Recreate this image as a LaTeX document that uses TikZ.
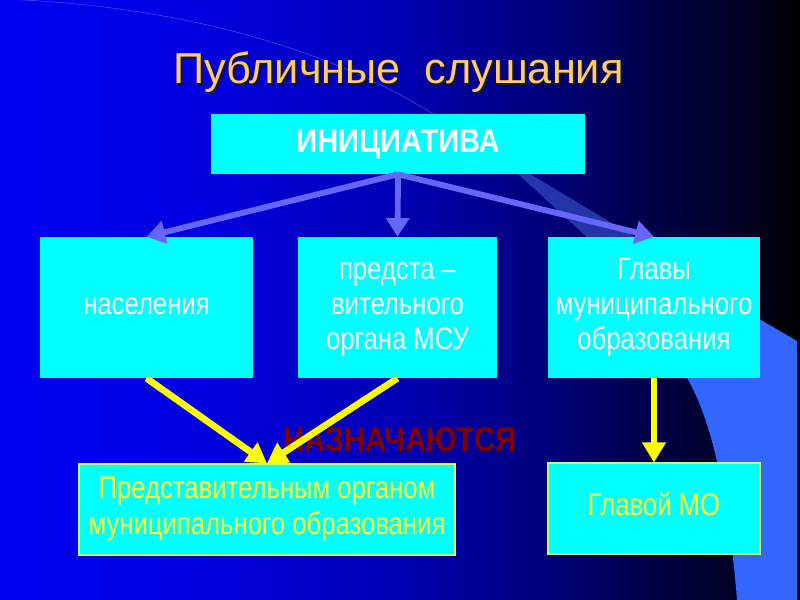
\documentclass[tikz,border=0pt]{standalone}
\usepackage{fontspec}
\usepackage{graphicx}
\setmainfont{Liberation Sans}
\usetikzlibrary{arrows.meta}
\definecolor{cyanbox}{RGB}{0,255,255}
\definecolor{arrowblue}{RGB}{102,102,255}
\definecolor{arrowyellow}{RGB}{255,255,0}
\definecolor{titlecol}{RGB}{255,204,102}
\definecolor{titleshadow}{RGB}{20,20,40}
\definecolor{darkred}{RGB}{128,0,0}
\definecolor{boxyellow}{RGB}{255,255,51}
\definecolor{boxedge}{RGB}{204,255,102}
\definecolor{swoosh}{RGB}{51,102,255}
\definecolor{dimstrip}{RGB}{50,75,195}
\definecolor{arcline}{RGB}{80,120,255}
\pgfdeclarehorizontalshading{bgshade}{100bp}{rgb(0bp)=(0,0,0.95); rgb(25bp)=(0,0,0.95); rgb(37.5bp)=(0,0,0.88); rgb(50bp)=(0,0,0.70); rgb(59.4bp)=(0,0,0.47); rgb(65.6bp)=(0,0,0.28); rgb(71.9bp)=(0,0,0.12); rgb(75bp)=(0,0,0); rgb(100bp)=(0,0,0)}
\newcommand\condtext[1]{\scalebox{0.82}[1]{\begin{tabular}{@{}c@{}}#1\end{tabular}}}
\newcommand\titletext{Публичные\hspace{0.55em}слушания}
\newdimen\pxu
\pxu=0.75pt
\tikzset{
  box/.style={rectangle, fill=cyanbox, inner sep=0pt, text=white,
    font=\fontsize{23.5}{26.3}\selectfont},
  lowbox/.style={box, draw=boxedge, line width=0.8pt, text=boxyellow},
  barrow/.style={draw=arrowblue, line width=4.4pt, -{Triangle[width=17pt,length=14pt]}},
  yarrow/.style={draw=arrowyellow, line width=5pt, -{Triangle[width=17pt,length=15pt]}},
}
\begin{document}
\begin{tikzpicture}[x=0.75pt,y=-0.75pt]
\useasboundingbox (0,0) rectangle (800,600);
% background
\shade[shading=bgshade] (0,0) rectangle (800,600);
% decorative shapes
\draw[arcline, line width=0.4pt, opacity=0.7] (0,-1) .. controls (180,5) and (340,50) .. (450,125);
\fill[dimstrip, opacity=0.7] (518,174) -- (530,174) -- (640,240) -- (590,240) -- cycle;
\fill[swoosh] (680,273) -- (797,341) -- (797,600) -- (737,600)
  .. controls (729,500) and (712,420) .. (687,378) -- cycle;
% title (with its shadow in the same node)
\node[font=\fontsize{32.5}{36}\selectfont, text=titlecol, anchor=base] (title) at (398.5,83)
  {\makebox[0pt][l]{\hspace{1.5pt}\raisebox{-1.8pt}{\color{titleshadow}\titletext}}\titletext};
% boxes
\node[box, minimum width=374\pxu, minimum height=60\pxu, font=\fontsize{25}{28}\selectfont\bfseries] (init) at (398,144) {\scalebox{0.87}[1]{ИНИЦИАТИВА}};
\node[box, minimum width=213\pxu, minimum height=141\pxu] (nas) at (146.5,307.5) {\condtext{населения}};
\node[box, minimum width=199\pxu, minimum height=141\pxu] (pred) at (397.5,307.5) {\condtext{предста –\\вительного\\органа МСУ}};
\node[box, minimum width=212\pxu, minimum height=141\pxu] (glav) at (654,307.5) {\condtext{Главы\\муниципального\\образования}};
\node[lowbox, minimum width=376\pxu, minimum height=91\pxu] (predorg) at (267,509.5) {\raisebox{-3pt}{\condtext{Представительным органом\\муниципального образования}}};
\node[lowbox, minimum width=212\pxu, minimum height=91\pxu] (glmo) at (654,508.5) {\condtext{Главой МО}};
% label
\node[font=\fontsize{26}{30}\selectfont\bfseries, text=darkred, anchor=base] (nazn) at (400,451) {\scalebox{0.85}[1]{НАЗНАЧАЮТСЯ}};
% arrows
\draw[barrow] (init.south) -- (nas.north);
\draw[barrow] (init.south) -- (pred.north);
\draw[barrow] (init.south) -- (glav.north);
\draw[yarrow] (nas.south) -- (predorg.north);
\draw[yarrow] (pred.south) -- (predorg.north);
\draw[yarrow] (glav.south) -- (glmo.north);
\end{tikzpicture}
\end{document}
